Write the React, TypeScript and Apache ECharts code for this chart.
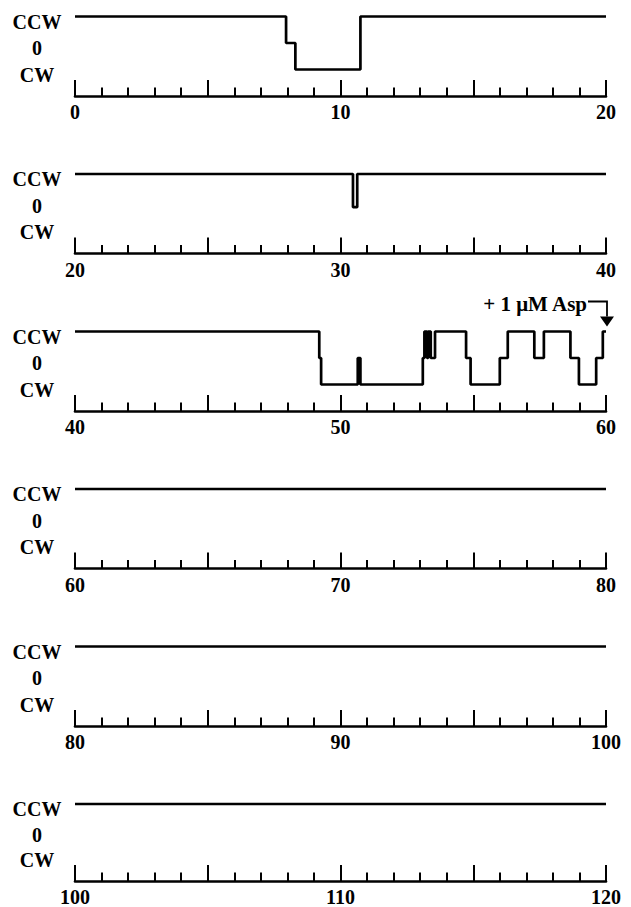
import React, { useEffect, useRef } from 'react';
import * as echarts from 'echarts';

// Time windows (s) of each panel
const panelStarts = [0, 20, 40, 60, 80, 100];
const panelLength = 20;

// Motor state: 1 = CCW, 0 = pause, -1 = CW ; [time (s), new state]
const trace0to20 = [[0, 1], [7.95, 0], [8.3, -1], [10.75, 1], [20, 1]];
const trace20to40 = [[20, 1], [30.47, -0.25], [30.63, 1], [40, 1]];
const trace40to60 = [
  [40, 1], [49.2, 0], [49.27, -1], [50.65, 0], [50.75, -1], [53.1, 0],
  [53.16, 1], [53.26, 0], [53.3, 1], [53.4, 0], [53.56, 1], [54.73, 0],
  [54.9, -1], [56.0, 0], [56.3, 1], [57.3, 0], [57.66, 1], [58.66, 0],
  [58.98, -1], [59.63, 0], [59.88, 1], [60, 1],
];
const trace60to80 = [[60, 1], [80, 1]];
const trace80to100 = [[80, 1], [100, 1]];
const trace100to120 = [[100, 1], [120, 1]];
const traces = [trace0to20, trace20to40, trace40to60, trace60to80, trace80to100, trace100to120];

const stateNames: Record<string, string> = { '1': 'CCW', '0': '0', '-1': 'CW' };

const aspTime = 60;
const aspState = 1;
const aspLabel = '+ 1 μM Asp';

const FONT = '"Liberation Serif", "Times New Roman", serif';

export default function App() {
  const ref = useRef<HTMLDivElement>(null);
  useEffect(() => {
    if (!ref.current) return;
    const chart = echarts.init(ref.current, undefined, { renderer: 'svg' });
    const top0 = 16.5;
    const step = 157.5;
    const grids = panelStarts.map((_, i) => ({
      left: 75,
      right: 25,
      top: top0 + step * i,
      height: 79.5,
    }));
    const xAxes = panelStarts.map((s, i) => ({
      type: 'value',
      gridIndex: i,
      min: s,
      max: s + panelLength,
      interval: 5,
      axisLine: { show: true, onZero: false, lineStyle: { color: '#000', width: 2.6 } },
      axisTick: { show: true, inside: true, length: 16, lineStyle: { color: '#000', width: 2 } },
      minorTick: { show: true, splitNumber: 5, length: 8.5, lineStyle: { color: '#000', width: 2 } },
      splitLine: { show: false },
      minorSplitLine: { show: false },
      axisLabel: {
        show: true,
        showMinLabel: true,
        showMaxLabel: true,
        margin: 6,
        color: '#000',
        fontFamily: FONT,
        fontWeight: 'bold',
        fontSize: 20,
        formatter: (v: number) => (Math.round(v) % 10 === 0 ? String(Math.round(v)) : ''),
      },
    }));
    const yAxes = panelStarts.map((_, i) => ({
      type: 'value',
      gridIndex: i,
      min: -2,
      max: 1,
      interval: 1,
      axisLine: { show: false },
      axisTick: { show: false },
      splitLine: { show: false },
      axisLabel: {
        show: true,
        margin: 38,
        align: 'center',
        color: '#000',
        fontFamily: FONT,
        fontWeight: 'bold',
        fontSize: 20,
        formatter: (v: number) => {
          const n = stateNames[String(Math.round(v))];
          return n ? '{s|' + n + '}' : '';
        },
        rich: {
          s: {
            color: '#000',
            fontFamily: FONT,
            fontWeight: 'bold',
            fontSize: 20,
            padding: [10, 0, 0, 0],
          },
        },
      },
    }));
    const series = traces.map((d, i) => ({
      type: 'line',
      xAxisIndex: i,
      yAxisIndex: i,
      step: 'end',
      showSymbol: false,
      clip: false,
      lineStyle: { color: '#000', width: 2.7 },
      data: d,
    }));
    chart.setOption({
      animation: false,
      backgroundColor: '#fff',
      grid: grids,
      xAxis: xAxes,
      yAxis: yAxes,
      series,
    });
    const p = chart.convertToPixel({ xAxisIndex: 2, yAxisIndex: 2 }, [aspTime, aspState]) as number[];
    if (p) {
      const [px, py] = p;
      chart.setOption({
        graphic: [
          {
            type: 'text',
            x: px - 19,
            y: py - 28,
            style: {
              text: aspLabel,
              fill: '#000',
              fontFamily: FONT,
              fontWeight: 'bold',
              fontSize: 21,
              align: 'right',
              verticalAlign: 'middle',
            },
          },
          {
            type: 'polyline',
            shape: { points: [[px - 18, py - 30], [px + 1, py - 30], [px + 1, py - 15]] },
            style: { stroke: '#000', lineWidth: 1.8, fill: 'none' },
          },
          {
            type: 'polygon',
            shape: { points: [[px - 6, py - 15], [px + 8, py - 15], [px + 1, py - 5]] },
            style: { fill: '#000' },
          },
        ],
      });
    }
    return () => chart.dispose();
  }, []);
  return (
    <div
      ref={ref}
      style={{ position: 'absolute', left: 0, top: 0, width: 631, height: 907, background: '#fff' }}
    />
  );
}
